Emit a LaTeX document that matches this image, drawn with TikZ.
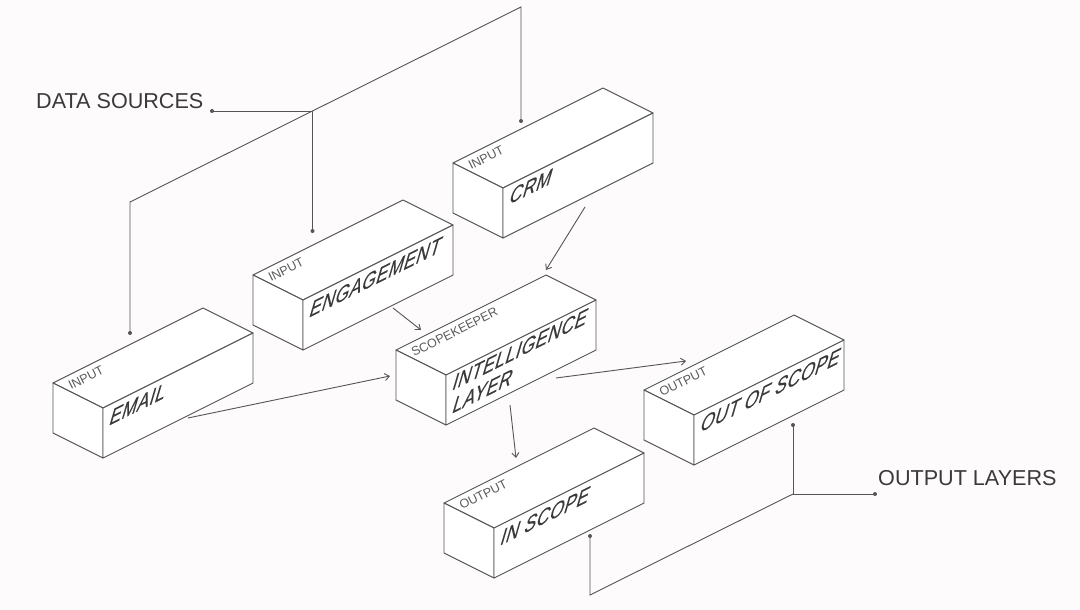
\documentclass[tikz,border=0pt]{standalone}
\usepackage{fontspec}
\setmainfont{Liberation Sans}
\newfontfamily\titlefont[FakeSlant=0.4,FakeBold=0.12,LetterSpace=3]{Liberation Sans}
\usetikzlibrary{arrows.meta}
\definecolor{bg}{HTML}{FDFBFC}
\definecolor{ink}{HTML}{555555}
\definecolor{txt}{HTML}{3A3A3A}
\definecolor{tagc}{HTML}{5A5A5A}
\tikzset{
  boxline/.style={draw=ink, line width=0.9pt, fill=white, line join=round},
  conn/.style={draw=ink, line width=0.9pt},
  arr/.style={conn, -{Straight Barb[length=4.5pt,width=7pt]}},
  tag/.style={rotate=26.57, anchor=base west, inner sep=0pt, font=\fontsize{12.5}{14}\selectfont, text=tagc},
  title/.style={cm={0.894,0.447,0,1.04,(0,0)}, anchor=base west, inner sep=0pt, font=\titlefont\fontsize{19.8}{23}\selectfont, text=txt},
  legend/.style={anchor=west, inner sep=0pt, font=\fontsize{21.6}{24}\selectfont, text=txt},
}
\newcommand\isobox[6]{%
  \begin{scope}[shift={(#2,#3)}]
    \coordinate (#1) at (0,0);
    \path[boxline] (0,0) -- (50,25) -- (200,-50) -- (150,-75) -- cycle;
    \path[boxline] (0,0) -- (50,25) -- (50,75) -- (0,50) -- cycle;
    \path[boxline] (50,25) -- (200,-50) -- (200,0) -- (50,75) -- cycle;
    \node[tag] (#1-tag) at (18,7) {#4};
    \node[title] (#1-title) at (55,#6) {#5};
  \end{scope}}
\begin{document}
\begin{tikzpicture}[x=1pt,y=-1pt]
  \fill[bg] (0,0) rectangle (1080,610);
  \useasboundingbox (0,0) rectangle (1080,610);

  % boxes
  \isobox{email}{53}{383}{INPUT}{EMAIL}{43}
  \isobox{engage}{253}{275}{INPUT}{ENGAGEMENT}{43}
  \isobox{crm}{453}{163}{INPUT}{CRM}{42}
  \isobox{intel}{396}{350}{SCOPEKEEPER}{INTELLIGENCE}{41}
  \path (intel) ++(55,64) node[title] (intel-title2) {LAYER};
  \isobox{outscope}{644}{390}{OUTPUT}{OUT OF SCOPE}{43}
  \isobox{inscope}{444}{503}{OUTPUT}{IN SCOPE}{43}

  % legends
  \node[legend] (dslabel) at (36,101) {DATA SOURCES};
  \node[legend] (ollabel) at (878,478) {OUTPUT LAYERS};

  % data source bracket
  \coordinate (dsdot) at (212,111);
  \coordinate (dsjoin) at (312.5,111);
  \coordinate (emailbend) at (130,202);
  \coordinate (crmtop) at (521,7);
  \coordinate (emaildot) at (130,333);
  \coordinate (engagedot) at (312.5,231);
  \coordinate (crmdot) at (521,121);
  \draw[conn] (dsdot) -- (dsjoin);
  \draw[conn] (emaildot) -- (emailbend) -- (crmtop) -- (crmdot);
  \draw[conn] (dsjoin) -- (engagedot);
  \foreach \p in {dsdot,emaildot,engagedot,crmdot} \fill[ink] (\p) circle (2pt);

  % output bracket
  \coordinate (oldot) at (875,494);
  \coordinate (oljoin) at (793,494);
  \coordinate (outdot) at (793,425);
  \coordinate (indot) at (590,536);
  \coordinate (inbend) at (590,595);
  \draw[conn] (outdot) -- (oljoin) -- (oldot);
  \draw[conn] (oljoin) -- (inbend) -- (indot);
  \foreach \p in {oldot,outdot,indot} \fill[ink] (\p) circle (2pt);

  % flow arrows
  \coordinate (crmout) at (585,207);
  \coordinate (intelinA) at (546,270);
  \coordinate (engageout) at (393,308);
  \coordinate (intelinB) at (421,330);
  \coordinate (emailout) at (188,418);
  \coordinate (intelinC) at (390,376);
  \coordinate (inteloutA) at (556,378);
  \coordinate (outin) at (686,361);
  \coordinate (inteloutB) at (510,405);
  \coordinate (inin) at (516,458);
  \draw[arr] (crmout) -- (intelinA);
  \draw[arr] (engageout) -- (intelinB);
  \draw[arr] (emailout) -- (intelinC);
  \draw[arr] (inteloutA) -- (outin);
  \draw[arr] (inteloutB) -- (inin);
\end{tikzpicture}
\end{document}
